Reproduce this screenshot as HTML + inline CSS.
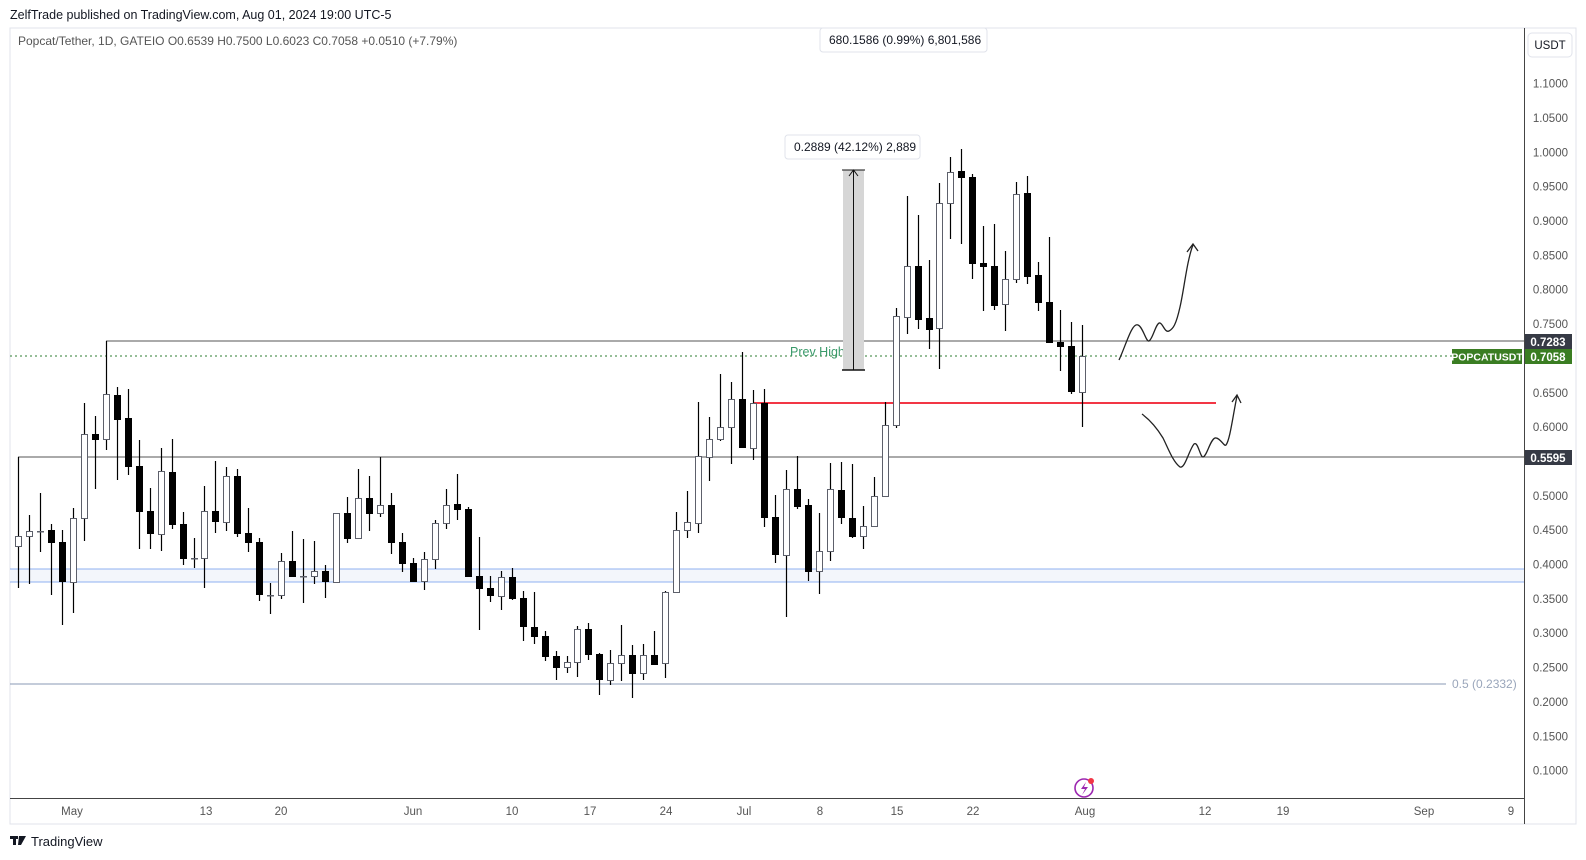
<!DOCTYPE html>
<html><head><meta charset="utf-8"><style>
html,body{margin:0;padding:0;background:#fff;width:1586px;height:860px;overflow:hidden}
svg{display:block}
text{font-family:"Liberation Sans",sans-serif}
</style></head><body>
<svg id="c" width="1586" height="860" xmlns="http://www.w3.org/2000/svg">
<rect width="1586" height="860" fill="#fff"/>
<text x="10" y="19" font-size="12.5" fill="#131722">ZelfTrade published on TradingView.com, Aug 01, 2024 19:00 UTC-5</text>
<rect x="10" y="28" width="1566" height="796" fill="#fff" stroke="#e0e3eb" stroke-width="1"/>
<text x="18" y="45" font-size="12" fill="#555">Popcat/Tether, 1D, GATEIO  O0.6539  H0.7500  L0.6023  C0.7058  +0.0510 (+7.79%)</text>
<rect x="10" y="569" width="1514" height="13" fill="#f3f6fb"/>
<line x1="10" y1="569" x2="1524" y2="569" stroke="#8fb0f0" stroke-width="1"/>
<line x1="10" y1="582" x2="1524" y2="582" stroke="#8fb0f0" stroke-width="1"/>
<line x1="10" y1="684" x2="1446" y2="684" stroke="#8a9ab5" stroke-width="1"/>
<text x="1452" y="688" font-size="12" fill="#9aa6bb">0.5 (0.2332)</text>
<line x1="18" y1="457" x2="1524" y2="457" stroke="#555" stroke-width="1"/>
<line x1="106" y1="341" x2="1524" y2="341" stroke="#555" stroke-width="1"/>
<line x1="10" y1="356" x2="1524" y2="356" stroke="#2e7d32" stroke-width="1" stroke-dasharray="2,3"/>
<line x1="754" y1="403" x2="1216" y2="403" stroke="#f23645" stroke-width="2"/>
<text x="790" y="356" font-size="12.5" fill="#3a9a6a">Prev High</text>
<rect x="843" y="170" width="21" height="200" fill="#d6d6d6"/>
<line x1="853.5" y1="170" x2="853.5" y2="370" stroke="#111" stroke-width="1"/>
<line x1="842" y1="370" x2="865" y2="370" stroke="#111" stroke-width="1.5"/>
<line x1="842" y1="170" x2="865" y2="170" stroke="#111" stroke-width="1"/>
<path d="M849,176 L853.5,170 L858,176" fill="none" stroke="#111"/>
<rect x="785" y="135" width="135" height="24" rx="3" fill="#fff" stroke="#e0e3eb"/>
<text x="794" y="151" font-size="12" fill="#131722">0.2889 (42.12%) 2,889</text>
<rect x="820" y="28" width="167" height="24" rx="3" fill="#fff" stroke="#e0e3eb"/>
<text x="829" y="44" font-size="12" fill="#131722">680.1586 (0.99%) 6,801,586</text>
<g id="candles"></g>
<path d="M1119,360 C1126,345 1132,322 1138,325 C1143,327 1146,342 1149,341 C1153,339 1156,322 1160,323 C1163,324 1165,333 1169,331 C1173,329 1176,325 1180,307 C1184,290 1187,260 1193,245" fill="none" stroke="#222" stroke-width="1.3"/>
<path d="M1187,252 L1193,244 L1198,251" fill="none" stroke="#222" stroke-width="1.3"/>
<path d="M1142,414 C1150,420 1157,428 1163,438 C1168,448 1173,462 1180,467 C1185,469 1189,450 1194,444 C1198,441 1200,457 1203,457 C1207,456 1210,440 1215,438 C1220,437 1224,447 1226,445 C1230,440 1233,415 1237,396" fill="none" stroke="#222" stroke-width="1.3"/>
<path d="M1232,402 L1237,395 L1241,403" fill="none" stroke="#222" stroke-width="1.3"/>
<circle cx="1084" cy="788" r="9" fill="none" stroke="#9c27b0" stroke-width="1.6"/>
<path d="M1086,782 L1081,789 L1085,789 L1082,795 L1088,787 L1084,787 Z" fill="#9c27b0"/>
<circle cx="1091" cy="781" r="3" fill="#f23645"/>
<line x1="1524.5" y1="28" x2="1524.5" y2="824" stroke="#444" stroke-width="1"/>
<line x1="10" y1="798.5" x2="1524" y2="798.5" stroke="#444" stroke-width="1"/>
<rect x="1528" y="33" width="44" height="24" rx="4" fill="#fff" stroke="#e0e3eb"/>
<text x="1550" y="49" font-size="11.5" fill="#131722" text-anchor="middle">USDT</text>
<g id="plabels" font-size="11.5" fill="#555"></g>
<rect x="1525" y="334" width="47" height="15" fill="#363a45"/>
<text x="1548" y="346" font-size="11.5" fill="#fff" text-anchor="middle" font-weight="bold">0.7283</text>
<rect x="1525" y="349" width="47" height="15" fill="#3a7d22"/>
<text x="1548" y="361" font-size="11.5" fill="#fff" text-anchor="middle" font-weight="bold">0.7058</text>
<rect x="1452" y="349" width="70" height="15" fill="#3a7d22"/>
<text x="1487" y="360.5" font-size="10.5" fill="#fff" text-anchor="middle" font-weight="bold">POPCATUSDT</text>
<rect x="1525" y="450" width="47" height="15" fill="#363a45"/>
<text x="1548" y="462" font-size="11.5" fill="#fff" text-anchor="middle" font-weight="bold">0.5595</text>
<g font-size="11.5" fill="#555" text-anchor="middle">
<text x="72" y="815">May</text><text x="206" y="815">13</text><text x="281" y="815">20</text>
<text x="413" y="815">Jun</text><text x="512" y="815">10</text><text x="590" y="815">17</text>
<text x="666" y="815">24</text><text x="744" y="815">Jul</text><text x="820" y="815">8</text>
<text x="897" y="815">15</text><text x="973" y="815">22</text><text x="1085" y="815">Aug</text>
<text x="1205" y="815">12</text><text x="1283" y="815">19</text><text x="1424" y="815">Sep</text>
<text x="1511" y="815">9</text>
</g>
<g fill="#131722"><rect x="10" y="836" width="8" height="3"/><rect x="13" y="836" width="3" height="9"/><path d="M19,836 L26,836 L21,845 L18,845 Z"/></g>
<text x="31" y="846" font-size="13" fill="#131722">TradingView</text>
</svg>
<script>
var d=[[536,546,457,588,'w'],[531,536,515,584,'w'],[531,531,493,552,'d'],[530,543,524,595,'b'],[542,582,530,625,'b'],[518,582,508,613,'w'],[434,518,403,541,'w'],[434,440,416,489,'b'],[394,439,341,450,'w'],[395,420,387,480,'b'],[418,467,389,475,'b'],[466,512,440,549,'b'],[511,534,488,549,'b'],[471,534,448,551,'w'],[472,525,439,529,'b'],[524,559,512,565,'b'],[558,558,538,568,'d'],[511,558,486,588,'w'],[511,522,461,533,'b'],[476,522,467,531,'w'],[476,534,469,537,'b'],[533,543,508,552,'b'],[542,595,538,601,'b'],[595,595,583,614,'d'],[561,595,553,599,'w'],[561,577,531,577,'b'],[576,576,539,603,'d'],[571,576,541,584,'w'],[571,582,565,598,'b'],[513,582,513,583,'w'],[513,539,497,543,'b'],[498,538,469,538,'w'],[498,514,476,531,'b'],[505,513,457,517,'w'],[505,543,493,554,'b'],[542,564,533,572,'b'],[563,582,558,582,'b'],[559,581,552,590,'w'],[523,559,520,569,'w'],[505,523,489,529,'w'],[504,510,474,520,'b'],[509,577,507,577,'b'],[576,589,537,630,'b'],[588,596,576,602,'b'],[577,596,571,610,'w'],[577,599,568,600,'b'],[598,627,591,641,'b'],[627,637,592,644,'b'],[636,657,631,661,'b'],[656,668,651,680,'b'],[662,667,656,673,'w'],[629,662,626,677,'w'],[629,655,623,660,'b'],[654,680,653,695,'b'],[663,680,650,685,'w'],[655,663,625,681,'w'],[655,674,645,698,'b'],[655,673,644,680,'w'],[655,665,631,665,'b'],[592,663,591,678,'w'],[530,592,512,592,'w'],[522,530,491,538,'w'],[456,523,402,533,'w'],[439,457,417,481,'w'],[427,439,374,441,'w'],[399,427,382,464,'w'],[399,448,352,448,'b'],[403,448,390,460,'w'],[403,518,389,527,'b'],[517,555,495,563,'b'],[489,555,470,617,'w'],[489,507,456,509,'b'],[505,572,499,581,'b'],[551,571,513,594,'w'],[489,551,463,561,'w'],[490,518,462,524,'b'],[518,537,464,538,'b'],[526,536,506,549,'w'],[496,526,477,526,'w'],[425,496,402,496,'w'],[316,425,308,428,'w'],[266,317,196,334,'w'],[266,320,215,329,'b'],[318,330,260,349,'b'],[203,328,183,369,'w'],[172,203,157,239,'w'],[171,178,149,244,'b'],[177,264,174,279,'b'],[263,267,226,311,'b'],[266,306,224,310,'b'],[279,304,251,331,'w'],[194,279,182,283,'w'],[193,277,176,284,'b'],[275,303,262,311,'b'],[302,343,237,343,'b'],[342,347,310,371,'b'],[346,392,322,394,'b'],[356,392,325,427,'w']];
var s='';
for(var i=0;i<d.length;i++){var c=d[i],x=Math.round(18+i*10.97);
s+='<line x1="'+(x+0.5)+'" y1="'+c[2]+'" x2="'+(x+0.5)+'" y2="'+c[3]+'" stroke="#000" stroke-width="1.2"/>';
var h=Math.max(1,c[1]-c[0]);
if(c[4]=='b')s+='<rect x="'+(x-3)+'" y="'+c[0]+'" width="7" height="'+h+'" fill="#000"/>';
else if(c[4]=='w')s+='<rect x="'+(x-2.5)+'" y="'+(c[0]+0.5)+'" width="6" height="'+h+'" fill="#fff" stroke="#5d606b" stroke-width="1"/>';
else s+='<rect x="'+(x-3)+'" y="'+c[0]+'" width="7" height="1.5" fill="#5d606b"/>';}
document.getElementById('candles').innerHTML=s;
var p='';
for(var k=0;k<=20;k++){var v=1.1-k*0.05,y=339+(0.7283-v)*687;
if(Math.abs(y-342)<10||Math.abs(y-356)<10||Math.abs(y-457)<10)continue;
p+='<text x="1568" y="'+(y+4).toFixed(1)+'" text-anchor="end">'+v.toFixed(4)+'</text>';}
document.getElementById('plabels').innerHTML=p;
</script>
</body></html>
